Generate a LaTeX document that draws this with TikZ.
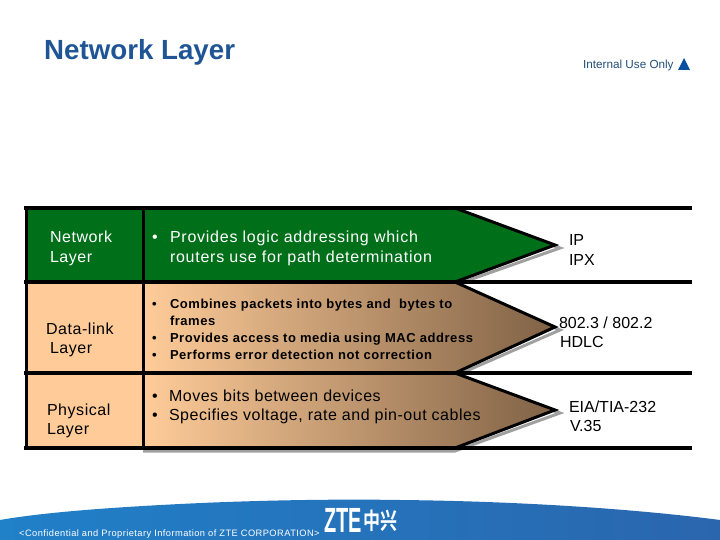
\documentclass[tikz,border=0pt]{standalone}
\usepackage{fontspec}
\usepackage{graphicx}
\setmainfont{Liberation Sans}
\newfontfamily\bodyf[LetterSpace=4.7]{Liberation Sans}
\newfontfamily\lowf[LetterSpace=3.3]{Liberation Sans}
\newfontfamily\leftf[LetterSpace=3.5]{Liberation Sans}
\newfontfamily\smallf[LetterSpace=4.2,BoldFont={Liberation Sans Bold}]{Liberation Sans}
\newfontfamily\footf[LetterSpace=4.7]{Liberation Sans}
\newfontfamily\cjkf{Noto Sans CJK SC Bold}
\definecolor{titleblue}{HTML}{1F5594}
\definecolor{notecol}{HTML}{1F4E79}
\definecolor{trianglecol}{HTML}{0A4FA0}
\definecolor{netgreen}{HTML}{006F1A}
\definecolor{tancol}{HTML}{FFCC99}
\definecolor{browncol}{HTML}{7F6145}
\definecolor{shadowcol}{HTML}{A0A0A0}
\definecolor{bandleft}{HTML}{2080C8}
\definecolor{bandmid}{HTML}{0F5AA8}
\definecolor{bandright}{HTML}{2A66AE}
\tikzset{
  lab/.style={anchor=base west,inner sep=0pt,outer sep=0pt,font=\leftf\fontsize{16}{18}\selectfont,text=black},
  labw/.style={lab,text=white},
  rowone/.style={labw,font=\bodyf\fontsize{16}{18}\selectfont},
  rowthree/.style={lab,font=\lowf\fontsize{16}{18}\selectfont},
  plain/.style={lab,font=\fontsize{16}{18}\selectfont},
  tiny/.style={lab,font=\smallf\bfseries\fontsize{13}{15}\selectfont},
  rule/.style={draw=black,line width=3.4pt},
  edge/.style={draw=black,line width=3pt,line join=miter},
  shadowline/.style={draw=shadowcol,line width=3pt},
}
\begin{document}
\begin{tikzpicture}[x=1pt,y=-1pt]
\useasboundingbox (0,0) rectangle (720,540);
% footer band
\shade[left color=bandleft,middle color=bandmid,right color=bandright]
  (0,540) -- (0,520) .. controls (40,513) and (100,508) .. (180,504)
  .. controls (260,500) and (340,499) .. (400,500)
  .. controls (500,501) and (620,507) .. (720,520) -- (720,540) -- cycle;
% left cells
\fill[netgreen] (26,208) rectangle (143,282);
\fill[tancol] (26,282) rectangle (143,373);
\fill[tancol] (26,373) rectangle (143,448);
% arrow shadows
\draw[shadowline] (455,211) -- (560,248) -- (455,285);
\draw[shadowline] (455,285) -- (560,330) -- (455,376);
\draw[shadowline] (455,376) -- (560,413) -- (455,451) -- (143,451);
% arrow fills
\fill[netgreen] (143,208) -- (455,208) -- (557,245) -- (455,282) -- (143,282) -- cycle;
\shade[left color=tancol,right color=browncol] (143,282) -- (455,282) -- (557,327) -- (455,373) -- (143,373) -- cycle;
\shade[left color=tancol,right color=browncol] (143,373) -- (455,373) -- (557,410) -- (455,448) -- (143,448) -- cycle;
% arrow edges
\draw[edge] (455,208) -- (555,245) -- (455,282);
\draw[edge] (455,282) -- (555,327) -- (455,373);
\draw[edge] (455,373) -- (555,410) -- (455,448);
% rules
\draw[rule] (24.3,208) -- (692,208);
\draw[rule] (24.3,282) -- (692,282);
\draw[rule] (24.3,373) -- (692,373);
\draw[rule] (24.3,448) -- (692,448);
\draw[line width=3pt] (26,206.3) -- (26,449.7);
\draw[line width=3pt] (143,206.3) -- (143,449.7);
% header
\node[anchor=base west,inner sep=0pt,font=\bfseries\fontsize{27.7}{30}\selectfont,text=titleblue] (title) at (44,60) {Network Layer};
\node[anchor=base west,inner sep=0pt,font=\fontsize{11.7}{14}\selectfont,text=notecol] (note) at (583,69) {Internal Use Only};
\fill[trianglecol] (678,70) -- (684,58) -- (690,70) -- cycle;
% left labels
\node[labw] (l1a) at (50,243) {Network};
\node[labw] (l1b) at (50,262.5) {Layer};
\node[lab] (l2a) at (46,334.5) {Data-link};
\node[lab] (l2b) at (50,353.5) {Layer};
\node[lab] (l3a) at (47,415.5) {Physical};
\node[lab] (l3b) at (47,434.5) {Layer};
% bullets row 1
\node[rowone] (b1) at (152,242.5) {•};
\node[rowone] (t1a) at (170,242.5) {Provides logic addressing which};
\node[rowone] (t1b) at (170,262.5) {routers use for path determination};
% bullets row 2
\node[tiny] (b2a) at (152,308.5) {•};
\node[tiny] (t2a) at (170,308.5) {Combines packets into bytes and\ \ bytes to};
\node[tiny] (t2b) at (170,325.5) {frames};
\node[tiny] (b2c) at (152,342.5) {•};
\node[tiny] (t2c) at (170,342.5) {Provides access to media using MAC address};
\node[tiny] (b2d) at (152,359.5) {•};
\node[tiny] (t2d) at (170,359.5) {Performs error detection not correction};
% bullets row 3
\node[rowthree] (b3a) at (152,401.5) {•};
\node[rowthree] (t3a) at (169,401.5) {Moves bits between devices};
\node[rowthree] (b3b) at (152,420.5) {•};
\node[rowthree] (t3b) at (169,420.5) {Specifies voltage, rate and pin-out cables};
% right labels
\node[plain] (r1a) at (569,245) {IP};
\node[plain] (r1b) at (569,265) {IPX};
\node[plain] (r2a) at (559,328.5) {802.3 / 802.2};
\node[plain] (r2b) at (560,347.5) {HDLC};
\node[plain] (r3a) at (569,412) {EIA/TIA-232};
\node[plain] (r3b) at (570,431) {V.35};
% footer text
\node[anchor=base west,inner sep=0pt,text=white,font=\footf\fontsize{9.3}{11}\selectfont] (foot) at (19,536) {<Confidential and Proprietary Information of ZTE CORPORATION>};
\node[anchor=base west,inner sep=0pt,text=white,font=\bfseries\fontsize{35}{37}\selectfont] (zte) at (324,532) {\scalebox{0.57}[1]{ZTE}};
\node[anchor=base west,inner sep=0pt,text=white,font=\cjkf\fontsize{17}{19}\selectfont] (zh) at (363,529.5) {\scalebox{1}[1.35]{中兴}};
\end{tikzpicture}
\end{document}
